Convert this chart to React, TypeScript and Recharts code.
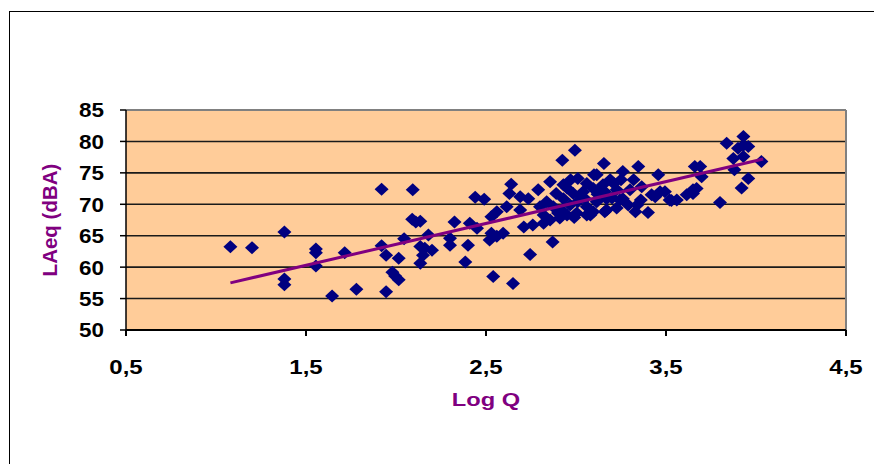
import React from "react"
import { ScatterChart, Scatter, XAxis, YAxis, CartesianGrid, ReferenceLine } from "recharts"

// Log Q and LAeq (dBA)
const logQ = [
  1.08, 1.2, 1.38, 1.38, 1.38, 1.555, 1.555, 1.555, 1.645, 1.715, 1.78, 1.92, 1.92, 1.945, 1.945, 1.98,
  1.995, 2.015, 2.015, 2.045, 2.093, 2.09, 2.11, 2.135, 2.18, 2.135, 2.16, 2.2, 2.15, 2.135, 2.3, 2.3,
  2.325, 2.4, 2.385, 2.41, 2.44, 2.45, 2.49, 2.52, 2.53, 2.53, 2.54, 2.56, 2.56, 2.595, 2.615, 2.63,
  2.64, 2.65, 2.69, 2.69, 2.71, 2.735, 2.745, 2.76, 2.79, 2.8, 2.82, 2.82, 2.837, 2.856, 2.856, 2.87,
  2.874, 2.89, 2.91, 2.92, 2.924, 2.93, 2.93, 2.95, 2.967, 2.97, 2.985, 2.994, 3.004, 3.01, 3.01, 3.04,
  3.06, 3.06, 3.06, 3.08, 3.096, 3.096, 3.1, 3.115, 3.115, 3.15, 3.155, 3.16, 3.16, 3.17, 3.17, 3.19,
  3.21, 3.226, 3.226, 3.244, 3.26, 3.26, 3.29, 3.3, 3.32, 3.33, 3.34, 3.346, 3.365, 3.4, 3.42, 3.44,
  3.457, 3.467, 3.494, 3.52, 3.615, 3.65, 3.65, 3.66, 3.67, 3.69, 3.698, 3.8, 3.837, 3.874, 3.88, 3.9,
  3.92, 3.93, 3.93, 3.93, 3.957, 3.957, 4.03, 2.95, 3.03, 3.12, 3.2, 2.9, 2.99, 3.05, 3.13, 3.25,
  3.36, 3.53, 3.56,
]
const laeq = [
  63.25, 63.1, 65.6, 58.1, 57.2, 62.9, 62.3, 60.2, 55.4, 62.3, 56.5, 72.4, 63.4, 61.9, 56.1, 59.2,
  58.6, 61.4, 58.0, 64.5, 72.3, 67.6, 67.2, 67.3, 65.1, 63.3, 63.0, 62.7, 61.9, 60.6, 64.6, 63.5,
  67.2, 63.5, 60.8, 67.0, 71.1, 66.2, 70.8, 64.3, 65.4, 68.0, 58.5, 64.9, 68.8, 65.4, 69.6, 71.7,
  73.2, 57.4, 71.2, 69.1, 66.4, 70.9, 62.0, 66.7, 72.3, 69.6, 67.0, 68.3, 70.4, 73.6, 67.5, 64.0,
  69.6, 71.7, 67.8, 69.1, 77.0, 73.1, 70.9, 68.3, 69.9, 73.9, 71.7, 78.6, 68.6, 74.1, 70.4, 72.0,
  73.3, 69.6, 68.3, 68.3, 72.5, 68.8, 74.7, 70.4, 74.7, 73.1, 76.5, 68.8, 72.0, 70.9, 69.1, 73.9,
  73.3, 72.3, 69.4, 70.7, 75.2, 70.9, 69.9, 72.3, 73.9, 68.8, 69.9, 76.0, 72.8, 68.7, 71.5, 71.2,
  74.7, 72.0, 72.0, 70.7, 71.5, 72.3, 71.7, 76.0, 72.5, 76.0, 74.4, 70.3, 79.7, 77.3, 75.5, 78.9,
  72.6, 80.8, 79.4, 77.6, 79.2, 74.1, 76.8, 72.6, 71.2, 71.6, 71.0, 68.6, 67.9, 70.9, 72.4, 73.9,
  70.7, 70.6, 70.7,
]

// linear trend endpoints
const trendX = [1.08, 4.04]
const trendY = [57.5, 77.2]

const xTicks = [0.5, 1.5, 2.5, 3.5, 4.5]
const yTicks = [50, 55, 60, 65, 70, 75, 80, 85]

const points = logQ.map((x, i) => ({ x, y: laeq[i] }))
const trend = trendX.map((x, i) => ({ x, y: trendY[i] }))

const font = "Arial, 'Liberation Sans', sans-serif"

const Diamond = (props: any) => {
  const { cx, cy } = props
  if (cx == null || cy == null) return <g />
  return (
    <polygon
      points={`${cx},${cy - 6.5} ${cx + 7},${cy} ${cx},${cy + 6.5} ${cx - 7},${cy}`}
      fill="#000080"
    />
  )
}

// the reference text is a bit wider than plain Arial, so stretch it horizontally
const XTick = (props: any) => {
  const { x, y, payload } = props
  return (
    <text
      transform={`translate(${x},${y}) scale(1.2,1)`}
      dy="0.71em"
      textAnchor="middle"
      fill="#000"
      fontSize={20}
      fontWeight={700}
      fontFamily={font}
    >
      {String(payload.value).replace(".", ",")}
    </text>
  )
}

const YTick = (props: any) => {
  const { x, y, payload } = props
  return (
    <text
      transform={`translate(${x},${y}) scale(1.07,1)`}
      dy="0.355em"
      textAnchor="end"
      fill="#000"
      fontSize={21}
      fontWeight={700}
      fontFamily={font}
    >
      {payload.value}
    </text>
  )
}

const XTitle = (props: any) => {
  const vb = props.viewBox || {}
  const cx = vb.x + vb.width / 2
  return (
    <text
      transform={`translate(${cx},406) scale(1.28,1)`}
      textAnchor="middle"
      fill="#800080"
      fontSize={18.5}
      fontWeight={700}
      fontFamily={font}
    >
      Log Q
    </text>
  )
}

const YTitle = (props: any) => {
  const vb = props.viewBox || {}
  const cy = vb.y + vb.height / 2
  return (
    <text
      x={57}
      y={cy}
      transform={`rotate(-90, 57, ${cy})`}
      textAnchor="middle"
      fill="#800080"
      fontSize={20.5}
      fontWeight={700}
      fontFamily={font}
    >
      LAeq (dBA)
    </text>
  )
}

export default function App() {
  return (
    <div style={{ position: "absolute", left: 0, top: 0, width: 874, height: 464, overflow: "hidden", background: "#fff" }}>
      <div
        style={{
          position: "absolute",
          left: 9,
          top: 11,
          width: 900,
          height: 500,
          border: "1px solid #000",
          boxSizing: "border-box",
        }}
      />
      <div style={{ position: "absolute", left: 0, top: 0 }}>
        <ScatterChart width={874} height={464} margin={{ top: 110, right: 28, bottom: 94, left: 66 }}>
          <CartesianGrid horizontal vertical={false} fill="#FFCC99" stroke="#1a1a1a" strokeWidth={1.6} />
          <XAxis
            type="number"
            dataKey="x"
            domain={[0.5, 4.5]}
            ticks={xTicks}
            height={40}
            tick={<XTick />}
            tickSize={6}
            tickMargin={24}
            axisLine={{ stroke: "#000", strokeWidth: 2 }}
            tickLine={{ stroke: "#000", strokeWidth: 2 }}
            label={<XTitle />}
          />
          <YAxis
            type="number"
            dataKey="y"
            domain={[50, 85]}
            ticks={yTicks}
            width={60}
            tick={<YTick />}
            tickSize={6}
            tickMargin={16}
            axisLine={{ stroke: "#000", strokeWidth: 1.5 }}
            tickLine={{ stroke: "#000", strokeWidth: 1.5 }}
            label={<YTitle />}
          />
          <ReferenceLine y={85} stroke="#808080" strokeWidth={2} />
          <ReferenceLine x={4.5} stroke="#808080" strokeWidth={2} />
          <Scatter data={points} shape={<Diamond />} isAnimationActive={false} />
          <Scatter
            data={trend}
            line={{ stroke: "#800080", strokeWidth: 3 }}
            shape={() => <g />}
            isAnimationActive={false}
          />
        </ScatterChart>
      </div>
    </div>
  )
}
